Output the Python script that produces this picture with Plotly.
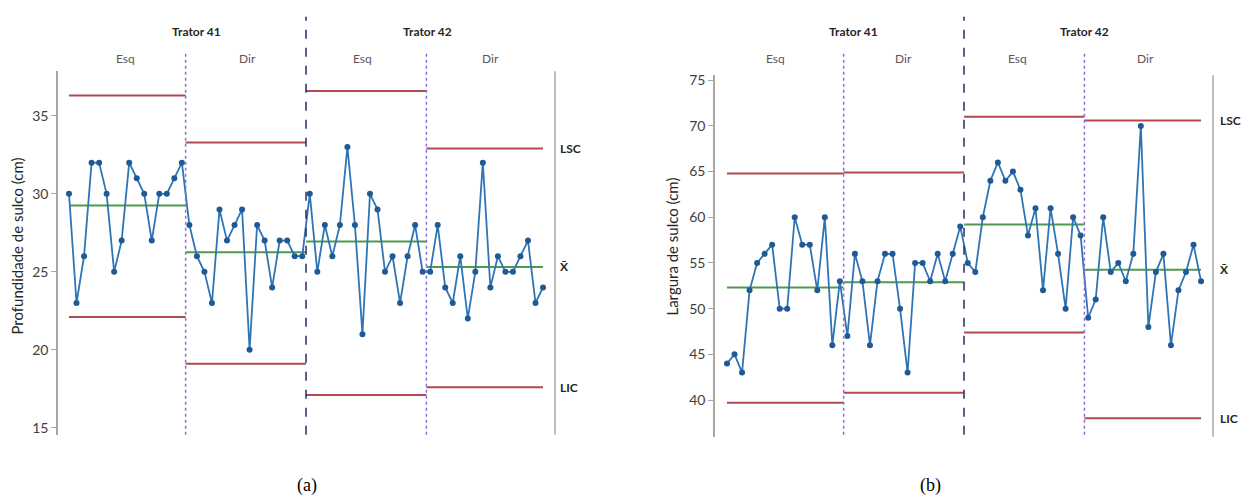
import plotly.graph_objects as go

# ---------------- data ----------------
tratores = ["Trator 41", "Trator 42"]
lados = ["Esq", "Dir", "Esq", "Dir"]

prof_t41_esq = [30, 23, 26, 32, 32, 30, 25, 27, 32, 31, 30, 27, 30, 30, 31, 32]
prof_t41_dir = [28, 26, 25, 23, 29, 27, 28, 29, 20, 28, 27, 24, 27, 27, 26, 26]
prof_t42_esq = [30, 25, 28, 26, 28, 33, 28, 21, 30, 29, 25, 26, 23, 26, 28, 25]
prof_t42_dir = [25, 28, 24, 23, 26, 22, 25, 32, 24, 26, 25, 25, 26, 27, 23, 24]

larg_t41_esq = [44, 45, 43, 52, 55, 56, 57, 50, 50, 60, 57, 57, 52, 60, 46, 53]
larg_t41_dir = [47, 56, 53, 46, 53, 56, 56, 50, 43, 55, 55, 53, 56, 53, 56, 59]
larg_t42_esq = [55, 54, 60, 64, 66, 64, 65, 63, 58, 61, 52, 61, 56, 50, 60, 58]
larg_t42_dir = [49, 51, 60, 54, 55, 53, 56, 70, 48, 54, 56, 46, 52, 54, 57, 53]

lsc_a = [36.3, 33.3, 36.6, 32.9]
media_a = [29.25, 26.25, 26.94, 25.31]
lic_a = [22.1, 19.1, 17.1, 17.6]

lsc_b = [64.8, 64.9, 71.0, 70.6]
media_b = [52.3, 52.9, 59.2, 54.25]
lic_b = [39.7, 40.8, 47.4, 38.0]

ticks_a = [15, 20, 25, 30, 35]
ticks_b = [40, 45, 50, 55, 60, 65, 70, 75]

# ---------------- styling ----------------
W, H = 1241, 501
BLUE = "#2E75B6"
MARK = "#1F5A96"
RED = "#B04A4F"
GREEN = "#4E9A4E"
PURPLE = "#8A6FD6"
NAVY = "#2A2A66"
AXIS = "#A6A6A6"
FONT = "Lato"

fig = go.Figure()

def py(px):
    return 1 - px / H

charts = [
    dict(x="x", y="y", data=[prof_t41_esq, prof_t41_dir, prof_t42_esq, prof_t42_dir],
         lsc=lsc_a, med=media_a, lic=lic_a,
         xdom=[58 / W, 555 / W], xr=[-0.462, 65.59],
         ydom=[py(435), py(68)], yr=[14.556, 37.857], ticks=ticks_a,
         title="Profundidade de sulco (cm)", title_x=17, lab_x=558,
         t41_x=196, t42_x=427, lado_x=[125, 247, 362, 490], cap="(a)", cap_x=307),
    dict(x="x2", y="y2", data=[larg_t41_esq, larg_t41_dir, larg_t42_esq, larg_t42_dir],
         lsc=lsc_b, med=media_b, lic=lic_b,
         xdom=[715 / W, 1213 / W], xr=[-0.595, 65.59],
         ydom=[py(437), py(72)], yr=[35.99, 75.54], ticks=ticks_b,
         title="Largura de sulco (cm)", title_x=672, lab_x=1218,
         t41_x=853, t42_x=1084, lado_x=[775, 903, 1018, 1145], cap="(b)", cap_x=930),
]

seg_bounds = [(1, 16.5), (16.5, 32.5), (32.5, 48.5), (48.5, 64)]
annotations = []
shapes = []

def ann(text, xp, yp, size, color, family=FONT, angle=0, xanchor="center"):
    annotations.append(dict(text=text, xref="paper", yref="paper", x=xp / W, y=py(yp),
                            xanchor=xanchor, yanchor="middle", textangle=angle,
                            showarrow=False, font=dict(family=family, size=size, color=color)))

for c in charts:
    # control limits and centre lines
    for i, (a, b) in enumerate(seg_bounds):
        for vals, col in ((c["lsc"], RED), (c["lic"], RED), (c["med"], GREEN)):
            fig.add_trace(go.Scatter(x=[a, b], y=[vals[i], vals[i]], mode="lines",
                                     line=dict(color=col, width=2),
                                     xaxis=c["x"], yaxis=c["y"], showlegend=False,
                                     hoverinfo="skip"))
    # data series
    yy = [v for seg in c["data"] for v in seg]
    xx = list(range(1, len(yy) + 1))
    fig.add_trace(go.Scatter(x=xx, y=yy, mode="lines+markers",
                             line=dict(color=BLUE, width=1.8),
                             marker=dict(color=MARK, size=6),
                             xaxis=c["x"], yaxis=c["y"], showlegend=False))
    # dividers
    for xv, col, dash, top in ((16.5, PURPLE, "dot", 48), (48.5, PURPLE, "dot", 48),
                               (32.5, NAVY, "dash", 13)):
        shapes.append(dict(type="line", xref=c["x"], yref="paper", x0=xv, x1=xv,
                           y0=py(435), y1=py(top), line=dict(color=col, width=1.5, dash=dash)))
    # right vertical axis line
    shapes.append(dict(type="line", xref=c["x"] + " domain", yref=c["y"] + " domain",
                       x0=1, x1=1, y0=0, y1=1, line=dict(color=AXIS, width=1.5)))
    # right labels
    for txt, v in (("LSC", c["lsc"][3]), ("X̄", c["med"][3]), ("LIC", c["lic"][3])):
        annotations.append(dict(text="<b>" + txt + "</b>", xref="paper", yref=c["y"],
                                x=c["lab_x"] / W, y=v, xanchor="left", yanchor="middle",
                                showarrow=False, font=dict(family=FONT, size=12, color="#262626")))
    # header
    for txt, xp in zip(tratores, (c["t41_x"], c["t42_x"])):
        ann("<b>" + txt + "</b>", xp, 28, 12, "#262626")
    for txt, xp in zip(lados, c["lado_x"]):
        ann(txt, xp, 55, 12, "#595959")
    # y title
    ann(c["title"], c["title_x"], 245, 15, "#262626", angle=-90)
    # caption
    ann(c["cap"], c["cap_x"], 486, 18, "#000000", family="Liberation Serif")

xcommon = dict(visible=False, showgrid=False, zeroline=False)
ycommon = dict(showgrid=False, zeroline=False, showline=True, linecolor=AXIS, linewidth=1.5,
               ticks="outside", ticklen=5, tickcolor=AXIS, tickwidth=1,
               tickfont=dict(family=FONT, size=14, color="#404040"))

c1, c2 = charts
fig.update_layout(
    width=W, height=H, margin=dict(l=0, r=0, t=0, b=0),
    paper_bgcolor="white", plot_bgcolor="white",
    xaxis=dict(domain=c1["xdom"], range=c1["xr"], anchor="y", **xcommon),
    yaxis=dict(domain=c1["ydom"], range=c1["yr"], tickvals=c1["ticks"], anchor="x", **ycommon),
    xaxis2=dict(domain=c2["xdom"], range=c2["xr"], anchor="y2", **xcommon),
    yaxis2=dict(domain=c2["ydom"], range=c2["yr"], tickvals=c2["ticks"], anchor="x2", **ycommon),
    shapes=shapes, annotations=annotations,
)

fig.write_html("out.html")
